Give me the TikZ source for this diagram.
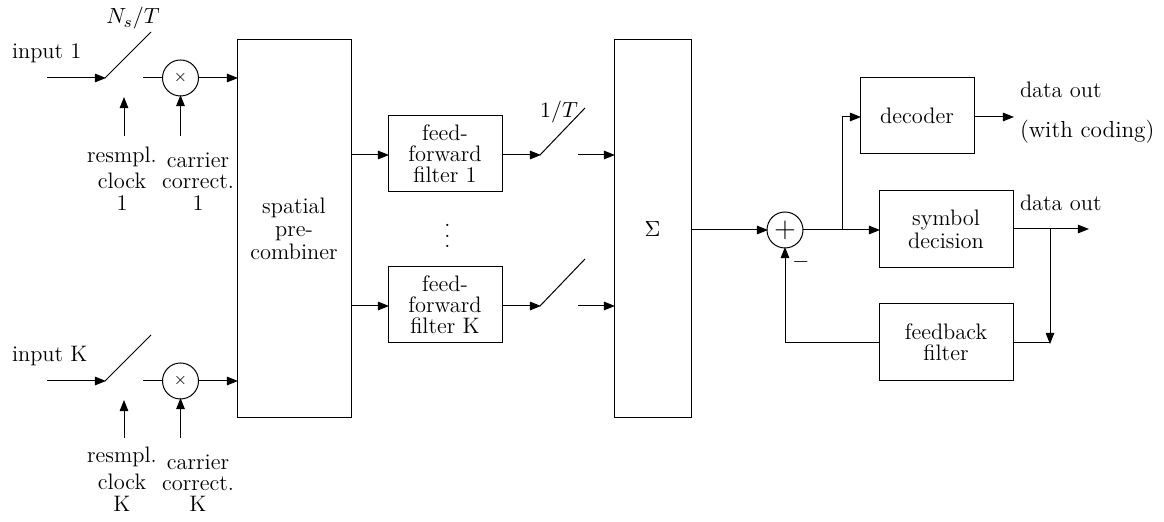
\documentclass[tikz,border=0pt]{standalone}
\usetikzlibrary{arrows.meta}
\tikzset{
  x=0.5pt,y=-0.5pt,
  every node/.style={font=\fontsize{11.2}{10.5}\selectfont,inner sep=0pt,outer sep=0pt,align=center},
  wire/.style={line width=0.5pt},
  flow/.style={wire,-{Triangle[length=5.6pt,width=4.3pt]},shorten >=-0.5pt},
  block/.style={draw,line width=0.5pt,rectangle},
  mixer/.style={draw,circle,line width=0.5pt,minimum size=18pt},
  lbl/.style={anchor=base},
  lleft/.style={anchor=base west}
}
\newcommand{\boxat}[6]{\node[block,minimum width=#4*0.5pt,minimum height=#5*0.5pt] (#1) at (#2,#3) {#6};}
\begin{document}
\begin{tikzpicture}
\useasboundingbox (0,-1) rectangle (1164,521);

% blocks
\boxat{spatial}{294}{228}{114}{378}{spatial\\[1pt]pre-\\[1pt]combiner}
\boxat{ff1}{445}{153}{114}{76}{feed-\\forward\\filter 1}
\boxat{ffk}{445}{304}{114}{76}{feed-\\forward\\filter K}
\boxat{sum}{652.5}{228}{77}{378}{$\Sigma$}
\boxat{decoder}{917}{115}{114}{76}{decoder}
\boxat{symbol}{946}{228.5}{134}{77}{symbol\\[1pt]decision}
\boxat{fb}{946}{341.5}{134}{77}{feedback\\filter}

% mixers and adder
\node[mixer] (mix1) at (180.5,77) {\footnotesize$\times$};
\node[mixer] (mixk) at (180.5,380) {\footnotesize$\times$};
\node[mixer] (add) at (785,229) {\fontsize{14}{14}\selectfont$+$};

% anchors of free ends
\coordinate (in1) at (47,77);
\coordinate (s1a) at (105,77);
\coordinate (s1b) at (151,31);
\coordinate (s1c) at (143,77);
\coordinate (sp1) at (spatial.west |- mix1);
\coordinate (ink) at (47,380);
\coordinate (ska) at (105,380);
\coordinate (skb) at (151,334);
\coordinate (skc) at (143,380);
\coordinate (spk) at (spatial.west |- mixk);
\coordinate (c1a) at (124,135);
\coordinate (c1b) at (124,97);
\coordinate (ckb) at (124,400);
\coordinate (cka) at (124,437);
\coordinate (m1a) at (180.5,135);
\coordinate (mka) at (180.5,437);
\coordinate (f1i) at (388,154);
\coordinate (fki) at (388,305);
\coordinate (o1) at (spatial.east |- f1i);
\coordinate (ok) at (spatial.east |- fki);
\coordinate (t1a) at (540,154);
\coordinate (t1b) at (585,107);
\coordinate (t1c) at (578,154);
\coordinate (tka) at (540,305);
\coordinate (tkb) at (585,258);
\coordinate (tkc) at (578,305);
\coordinate (f1o) at (502,154);
\coordinate (fko) at (502,305);
\coordinate (sm1) at (614,154);
\coordinate (smk) at (614,305);
\coordinate (smo) at (691,229);
\coordinate (jn) at (842,229);
\coordinate (jt) at (842,116);
\coordinate (symi) at (879,229);
\coordinate (deci) at (860,116);
\coordinate (deco) at (974,116);
\coordinate (dout1) at (1013,116);
\coordinate (symo) at (1013,228);
\coordinate (dout2) at (1088,228);
\coordinate (jr) at (1050,228);
\coordinate (jrb) at (1050,342);
\coordinate (fbo) at (1013,342);
\coordinate (fbi) at (879,342);
\coordinate (fbc) at (785,342);

% connectors, upper input
\draw[flow] (in1) -- (s1a);
\draw[wire] (s1a) -- (s1b);
\draw[wire] (s1c) -- (mix1);
\draw[flow] (mix1) -- (sp1);
\draw[flow] (c1a) -- (c1b);
\draw[flow] (m1a) -- (mix1);
% lower input
\draw[flow] (ink) -- (ska);
\draw[wire] (ska) -- (skb);
\draw[wire] (skc) -- (mixk);
\draw[flow] (mixk) -- (spk);
\draw[flow] (cka) -- (ckb);
\draw[flow] (mka) -- (mixk);
% filters
\draw[flow] (o1) -- (f1i);
\draw[flow] (ok) -- (fki);
\draw[flow] (f1o) -- (t1a);
\draw[wire] (t1a) -- (t1b);
\draw[flow] (t1c) -- (sm1);
\draw[flow] (fko) -- (tka);
\draw[wire] (tka) -- (tkb);
\draw[flow] (tkc) -- (smk);
% output
\draw[flow] (smo) -- (add);
\draw[flow] (add.east |- jn) -- (symi);
\draw[flow] (jn) -- (jt) -- (deci);
\draw[flow] (deco) -- (dout1);
\draw[flow] (symo) -- (dout2);
\draw[flow] (jr) -- (jrb);
\draw[wire] (fbo) -- (jrb);
\draw[flow] (fbi) -- (fbc) -- (add);

% labels
\node[lleft] (l1) at (12,58) {input 1};
\node[lleft] (lk) at (12,361) {input K};
\node[lbl] (ns) at (133,23) {$N_s/T$};
\node[lbl] (onet) at (559,117) {$1/T$};
\node[lbl] (r11) at (122,162) {resmpl.};
\node[lbl] (r12) at (122,188) {clock};
\node[lbl] (r13) at (122,210) {1};
\node[lbl] (c11) at (198,167) {carrier};
\node[lbl] (c12) at (198,188) {correct.};
\node[lbl] (c13) at (198,210) {1};
\node[lbl] (rk1) at (122,462) {resmpl.};
\node[lbl] (rk2) at (122,489) {clock};
\node[lbl] (rk3) at (122,511) {K};
\node[lbl] (ck1) at (198,469) {carrier};
\node[lbl] (ck2) at (198,490) {correct.};
\node[lbl] (ck3) at (198,511) {K};
\node[font=\fontsize{11.2}{5.25}\selectfont] (dots) at (447.5,235) {.\\.\\.};
\node[lleft] (d1) at (1020,97) {data out};
\node[lleft,font=\fontsize{11.6}{10.5}\selectfont] (d2) at (1020,137) {(with coding)};
\node[lleft] (d3) at (1020,210) {data out};
\node (minus) at (801,261) {$-$};
\end{tikzpicture}
\end{document}
